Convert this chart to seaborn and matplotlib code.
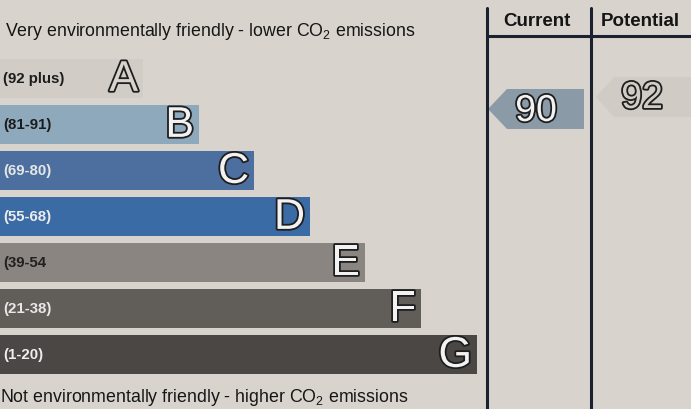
import numpy as np
import matplotlib
matplotlib.use("Agg")
import matplotlib.pyplot as plt
import matplotlib.patheffects as pe
from matplotlib.patches import Polygon
import seaborn as sns

# bands of the rating chart, top (best) to bottom (worst)
band_letters = ["A", "B", "C", "D", "E", "F", "G"]
band_ranges = ["(92 plus)", "(81-91)", "(69-80)", "(55-68)", "(39-54", "(21-38)", "(1-20)"]
band_length = [143, 199, 254, 310, 365, 421, 477]
band_colors = ["#d1ccc5", "#8ea8bc", "#4c6f9f", "#3b6ba4", "#8a8580", "#615d59", "#4a4745"]
range_text_colors = ["#1c1c1c", "#1c1c1c", "#e6e6e6", "#ececec", "#202020", "#e8e8e8", "#eeeeee"]

current_score = 90
potential_score = 92
column_titles = ["Current", "Potential"]

top_note = "Very environmentally friendly - lower CO$_2$ emissions"
bottom_note = "Not environmentally friendly - higher CO$_2$ emissions"

page = "#d8d3cd"
ink = "#1b2130"
outline = [pe.withStroke(linewidth=2.6, foreground="#1e1e1e")]

sns.set_theme(style="white")
plt.rcParams["font.family"] = ["Liberation Sans", "DejaVu Sans"]
plt.rcParams["mathtext.default"] = "regular"

fig = plt.figure(figsize=(6.91, 4.09), dpi=100)
fig.patch.set_facecolor(page)

# full-figure axes in pixel units for notes, grid lines and arrows
ax = fig.add_axes([0, 0, 1, 1])
ax.set_xlim(0, 691)
ax.set_ylim(409, 0)
ax.axis("off")
ax.patch.set_alpha(0)

# bars
axb = fig.add_axes([0, 31.5 / 409, 1, 322 / 409])
sns.barplot(x=band_length, y=band_letters, hue=band_letters, palette=band_colors,
            orient="h", width=0.85, saturation=1, legend=False, ax=axb,
            edgecolor="none", linewidth=0)
axb.set_xlim(0, 691)
axb.set_ylim(6.5, -0.5)
axb.axis("off")
axb.patch.set_alpha(0)

for i, (letter, rng, length) in enumerate(zip(band_letters, band_ranges, band_length)):
    axb.text(3, i + 0.02, rng, ha="left", va="center", fontsize=10.8, fontweight="bold",
             color=range_text_colors[i])
    fill = page if i == 0 else "#f2f2f2"
    axb.text(length - 5, i + 0.03, letter, ha="right", va="center", fontsize=31,
             color=fill, path_effects=outline)

# notes
ax.text(5, 32, top_note, ha="left", va="center", fontsize=12.8, color="#161616")
ax.text(0, 398, bottom_note, ha="left", va="center", fontsize=12.8, color="#161616")

# table lines and headers
ax.plot([487, 487], [8, 409], color=ink, lw=2.2)
ax.plot([591, 591], [8, 409], color=ink, lw=2.2)
ax.plot([487, 691], [36, 36], color=ink, lw=2.2)
ax.text(537, 21, column_titles[0], ha="center", va="center", fontsize=13.5, fontweight="bold", color="#151515")
ax.text(640, 21, column_titles[1], ha="center", va="center", fontsize=13.5, fontweight="bold", color="#151515")

# current arrow
ax.add_patch(Polygon([[488, 109], [507, 89], [584, 89], [584, 129], [507, 129]],
                     closed=True, facecolor="#8a9ba7", edgecolor="none"))
ax.text(536, 111, str(current_score), ha="center", va="center", fontsize=27,
        color="#f2f2f2", path_effects=outline)

# potential arrow
ax.add_patch(Polygon([[596, 97], [614, 77], [691, 77], [691, 117], [614, 117]],
                     closed=True, facecolor="#d0cbc4", edgecolor="none"))
ax.text(642, 98, str(potential_score), ha="center", va="center", fontsize=27,
        color="#d0cbc4", path_effects=outline)

fig.savefig("out.png", dpi=100, facecolor=page)
